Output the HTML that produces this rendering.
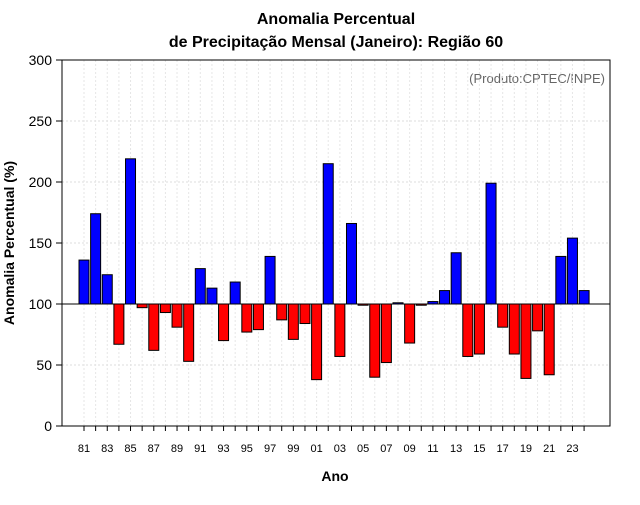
<!DOCTYPE html>
<html><head><meta charset="utf-8"><style>
body{margin:0;background:#fff;font-family:"Liberation Sans",sans-serif}
</style></head><body>
<svg id="c" width="640" height="500" xmlns="http://www.w3.org/2000/svg" font-family="Liberation Sans, sans-serif">
<text x="336" y="24" text-anchor="middle" font-size="16" font-weight="bold">Anomalia Percentual</text>
<text x="336" y="47" text-anchor="middle" font-size="16" font-weight="bold">de Precipitação Mensal (Janeiro): Região 60</text>
<text x="335" y="481" text-anchor="middle" font-size="14" font-weight="bold">Ano</text>
<text transform="translate(14,243) rotate(-90)" text-anchor="middle" font-size="14" font-weight="bold">Anomalia Percentual (%)</text>
<text x="605" y="83" text-anchor="end" font-size="13" fill="#666">(Produto:CPTEC/INPE)</text>
<g id="grid"></g><g id="bars"></g><g id="axes"></g>
</svg>
<script>
const years=[81,82,83,84,85,86,87,88,89,90,91,92,93,94,95,96,97,98,99,0,1,2,3,4,5,6,7,8,9,10,11,12,13,14,15,16,17,18,19,20,21,22,23,24];
const values=[136,174,124,67,219,97,62,93,81,53,129,113,70,118,77,79,139,87,71,84,38,215,57,166,99,40,52,101,68,99,102,111,142,57,59,199,81,59,39,78,42,139,154,111];
const yTicks=[0,50,100,150,200,250,300];
const NS='http://www.w3.org/2000/svg';
const L=62,R=610,T=60,B=426;
const y=v=>B-(v/300)*(B-T);
const x=i=>84+i*11.63;
function mk(tag,attrs,parent){const e=document.createElementNS(NS,tag);for(const k in attrs)e.setAttribute(k,attrs[k]);document.getElementById(parent).appendChild(e);return e;}
yTicks.forEach(t=>{
 const g=mk('line',{x1:L,x2:R,y1:y(t),y2:y(t),stroke:'#ddd','stroke-dasharray':'2,2'},'grid');
 
 
 const tk=mk('line',{x1:L-6,x2:L,y1:y(t),y2:y(t),stroke:'#000'},'axes');
 
 
 const lb=mk('text',{x:L-10,y:y(t)+5,'text-anchor':'end','font-size':'14'},'axes');
 lb.textContent=t;
 
 
});
years.forEach((yr,i)=>{
 const gl=mk('line',{x1:x(i),x2:x(i),y1:T,y2:B,stroke:'#e6e6e6','stroke-dasharray':'2,2'},'grid');
 
 
 const v=values[i];
 const b=mk('rect',{x:x(i)-5,y:Math.min(y(v),y(100)),width:10,height:Math.abs(y(v)-y(100)),fill:v>=100?'#0000ff':'#ff0000',stroke:'#000','stroke-width':1},'bars');
 
 
 const tk=mk('line',{x1:x(i),x2:x(i),y1:B,y2:B+5,stroke:'#000'},'axes');
 
 
 if(i%2===0){
  const lb=mk('text',{x:x(i),y:452,'text-anchor':'middle','font-size':'11'},'axes');
  lb.textContent=String(yr).padStart(2,'0');
  
  
 }
});
const bl=mk('line',{x1:L,x2:R,y1:y(100),y2:y(100),stroke:'#000'},'axes');


const fr=mk('rect',{x:L,y:T,width:R-L,height:B-T,fill:'none',stroke:'#000'},'axes');


</script>
</body></html>
